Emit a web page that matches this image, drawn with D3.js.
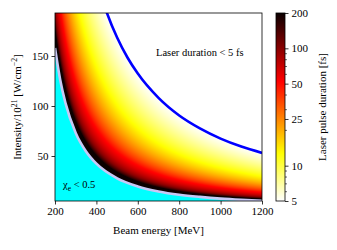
<!DOCTYPE html>
<html><head><meta charset="utf-8">
<script src="https://cdn.jsdelivr.net/npm/d3@7"></script>
<style>
body{margin:0;background:#fff;}
svg{display:block;}
text{font-family:"Liberation Serif","Times New Roman",Times,serif;fill:#000;}
</style>
</head><body>
<svg id="chart" width="337" height="250"></svg>
<script>
// ---- data ----
const energyTicks = [200, 400, 600, 800, 1000, 1200];
const intensityTicks = [50, 100, 150];
const durationTicks = [5, 10, 25, 50, 100, 200];
const durationMinorTicks = [6, 7, 8, 9, 20, 30, 40, 60, 70, 80, 90];

// chi_e = 0.5 boundary (MeV, 1e21 W/cm^2)
const chiEnergy    = [200, 225, 250, 300, 350, 400, 500, 600, 700, 800, 900, 1000, 1100, 1200];
const chiIntensity = [158, 126.3, 103.4, 73.1, 54.6, 42.3, 27.7, 19.6, 14.6, 11.3, 9.1, 7.4, 6.2, 5.3];

// 5 fs pulse-duration line
const fiveFsEnergy    = [440, 451, 500, 550, 600, 700, 800, 900, 1000, 1100, 1200];
const fiveFsIntensity = [199.4, 193, 168.5, 148.5, 132.4, 108.1, 90.5, 77.6, 67.4, 59.4, 53.1];

// duration profile across the band between the two lines
// (fraction of the way from the chi line to the 5 fs line -> duration in fs)
const profileFraction = [1, 0.533, 0.312, 0.183, 0.079, 0.047];
const profileDuration = [5, 12, 25, 50, 100, 170];

const energyDomain = [200, 1200];
const intensityDomain = [5, 193];
const durationDomain = [5, 200];

// ---- layout ----
const L = 55, R = 262, T = 13, B = 201;
const svg = d3.select("#chart");
const x = d3.scaleLinear().domain(energyDomain).range([L, R]);
const y = d3.scaleLinear().domain(intensityDomain).range([B, T]);
const c = d3.scaleLog().domain(durationDomain).range([0, 1]).clamp(true);

function hot(v) {
  const r = v < 0.365079 ? 0.0416 + (1 - 0.0416) * v / 0.365079 : 1;
  const g = v < 0.365079 ? 0 : (v < 0.746032 ? (v - 0.365079) / (0.746032 - 0.365079) : 1);
  const b = v < 0.746032 ? 0 : (v - 0.746032) / (1 - 0.746032);
  return [Math.round(r * 255), Math.round(g * 255), Math.round(b * 255)];
}
const hotR = t => hot(1 - t);

// log-log piecewise interpolation with end-segment extrapolation (xs ascending)
function logInterp(xs, ys, v) {
  const n = xs.length;
  const lx = xs.map(Math.log), ly = ys.map(Math.log), lv = Math.log(v);
  let i = 0;
  while (i < n - 2 && lv > lx[i + 1]) i++;
  const f = (lv - lx[i]) / (lx[i + 1] - lx[i]);
  return Math.exp(ly[i] + f * (ly[i + 1] - ly[i]));
}
const chiI = chiIntensity.slice().reverse(), chiE = chiEnergy.slice().reverse();
const fsI = fiveFsIntensity.slice().reverse(), fsE = fiveFsEnergy.slice().reverse();
const pU = profileFraction.slice().reverse(), pD = profileDuration.slice().reverse();

function duration(E, I) {
  const Eb = logInterp(chiI, chiE, I);
  if (E <= Eb) return null;
  const E5 = logInterp(fsI, fsE, I);
  const u = (E - Eb) / (E5 - Eb);
  return logInterp(pU, pD, u);
}

// ---- heat map ----
const W = R - L, H = B - T;
const canvas = document.createElement("canvas");
canvas.width = W; canvas.height = H;
const ctx = canvas.getContext("2d");
const img = ctx.createImageData(W, H);
for (let py = 0; py < H; py++) {
  const I = y.invert(T + py + 0.5);
  for (let px = 0; px < W; px++) {
    const E = x.invert(L + px + 0.5);
    const tau = duration(E, I);
    const k = (py * W + px) * 4;
    const col = tau === null ? [0, 255, 255] : hotR(c(tau));
    img.data[k] = col[0]; img.data[k + 1] = col[1]; img.data[k + 2] = col[2]; img.data[k + 3] = 255;
  }
}
ctx.putImageData(img, 0, 0);
svg.append("image").attr("x", L).attr("y", T).attr("width", W).attr("height", H)
  .attr("preserveAspectRatio", "none").attr("href", canvas.toDataURL());

svg.append("clipPath").attr("id", "clip").append("rect")
  .attr("x", L).attr("y", T).attr("width", W).attr("height", H);

const line = d3.line().x(d => x(d[0])).y(d => y(d[1])).curve(d3.curveMonotoneX);
svg.append("path").datum(chiEnergy.map((e, i) => [e, chiIntensity[i]]))
  .attr("clip-path", "url(#clip)").attr("d", line)
  .attr("fill", "none").attr("stroke", "#c8c8f5").attr("stroke-width", 2.6);
svg.append("path").datum(fiveFsEnergy.map((e, i) => [e, fiveFsIntensity[i]]))
  .attr("clip-path", "url(#clip)").attr("d", line)
  .attr("fill", "none").attr("stroke", "#0000ff").attr("stroke-width", 2.6);

// ---- axes ----
const xAxis = d3.axisBottom(x).tickValues(energyTicks).tickSize(3.5).tickPadding(3).tickFormat(d3.format("d"));
const gx = svg.append("g").attr("transform", `translate(0,${B})`).call(xAxis);
const yAxis = d3.axisLeft(y).tickValues(intensityTicks).tickSize(3.5).tickPadding(3).tickFormat(d3.format("d"));
const gy = svg.append("g").attr("transform", `translate(${L},0)`).call(yAxis);
[gx, gy].forEach(g => {
  g.select(".domain").remove();
  g.selectAll("line").attr("stroke", "#000").attr("stroke-width", 0.8);
  g.selectAll("text").style("font-size", "11px").attr("fill", "#000")
    .style("font-family", '"Liberation Serif","Times New Roman",serif');
});
svg.append("rect").attr("x", L).attr("y", T).attr("width", W).attr("height", H)
  .attr("fill", "none").attr("stroke", "#000").attr("stroke-width", 0.8);

svg.append("text").attr("x", (L + R) / 2).attr("y", 234).attr("text-anchor", "middle")
  .style("font-size", "11px").text("Beam energy [MeV]");

const yl = svg.append("text").attr("transform", `translate(20.5,${(T + B) / 2}) rotate(-90)`)
  .attr("text-anchor", "middle").style("font-size", "11px");
yl.append("tspan").text("Intensity/10");
yl.append("tspan").attr("dy", -4).style("font-size", "7.7px").text("21");
yl.append("tspan").attr("dy", 4).text(" [W/cm");
yl.append("tspan").attr("dy", -4).style("font-size", "7.7px").text("\u22122");
yl.append("tspan").attr("dy", 4).text("]");

svg.append("text").attr("x", 156).attr("y", 55.5).style("font-size", "10.5px").text("Laser duration < 5 fs");
const chiText = svg.append("text").attr("x", 63).attr("y", 188).style("font-size", "10.5px");
chiText.append("tspan").text("\u03c7");
chiText.append("tspan").attr("dy", 2.5).style("font-size", "7.5px").text("e");
chiText.append("tspan").attr("dy", -2.5).text(" < 0.5");

// ---- colorbar ----
const cbX = 276, cbW = 9;
const cb = d3.scaleLog().domain(durationDomain).range([B, T]);
const cbRows = d3.range(T, B);
svg.append("g").selectAll("rect").data(cbRows).join("rect")
  .attr("x", cbX).attr("y", d => d).attr("width", cbW).attr("height", 1.2)
  .attr("fill", d => { const v = hotR(c(cb.invert(d + 0.5))); return `rgb(${v[0]},${v[1]},${v[2]})`; });
svg.append("rect").attr("x", cbX).attr("y", T).attr("width", cbW).attr("height", H)
  .attr("fill", "none").attr("stroke", "#000").attr("stroke-width", 0.8);
const cbAxis = d3.axisRight(cb).tickValues(durationTicks).tickSize(3.5).tickPadding(3).tickFormat(d3.format("d"));
const gc = svg.append("g").attr("transform", `translate(${cbX + cbW},0)`).call(cbAxis);
gc.select(".domain").remove();
gc.selectAll("line").attr("stroke", "#000").attr("stroke-width", 0.8);
gc.selectAll("text").style("font-size", "11px").attr("fill", "#000")
  .style("font-family", '"Liberation Serif","Times New Roman",serif');
svg.append("g").attr("transform", `translate(${cbX + cbW},0)`).selectAll("line").data(durationMinorTicks).join("line")
  .attr("x1", 0).attr("x2", 2).attr("y1", d => cb(d)).attr("y2", d => cb(d))
  .attr("stroke", "#000").attr("stroke-width", 0.6);
svg.append("text").attr("transform", `translate(325.5,${(T + B) / 2}) rotate(-90)`)
  .attr("text-anchor", "middle").style("font-size", "11px").text("Laser pulse duration [fs]");
</script>
</body></html>
